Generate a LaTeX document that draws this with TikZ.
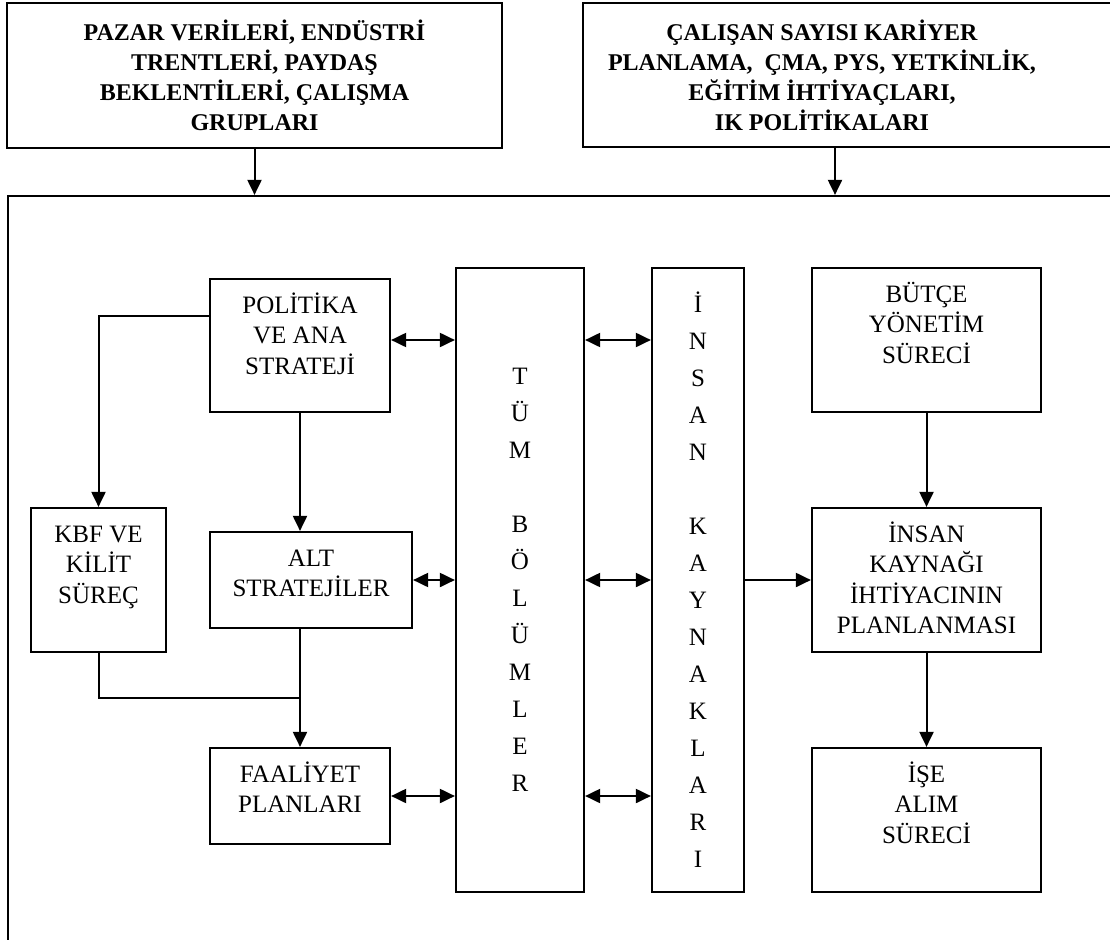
\documentclass[tikz,border=0pt]{standalone}
\usepackage{fontspec}
\setmainfont{Liberation Serif}
\usetikzlibrary{arrows.meta}
\newcommand\boxfont{\fontsize{25}{30.5}\selectfont}
\newcommand\colfont{\fontsize{25}{37}\selectfont}
\newcommand\topfont{\bfseries\fontsize{24}{30}\selectfont}
\newcommand\boxtop{\rule{0pt}{22pt}}
\tikzset{
  box/.style={draw, line width=2.2pt, inner sep=0pt},
  boxtxt/.style={anchor=north, inner sep=0pt, yshift=-13pt, align=center, font=\boxfont},
  toptxt/.style={inner sep=0pt, align=center, font=\topfont},
  topbox/.style={box, align=center, font=\topfont},
  col/.style={box, align=center, font=\colfont},
  conn/.style={line width=2pt},
  arr/.style={conn, -{Triangle[length=15pt,width=14pt]}},
  dbl/.style={conn, {Triangle[length=15pt,width=14pt]}-{Triangle[length=15pt,width=14pt]}}
}
\begin{document}
\begin{tikzpicture}[x=1pt, y=-1pt]
\useasboundingbox (0,0) rectangle (1110,939);
\clip (0,0) rectangle (1110,939);

% Input boxes
\node[topbox, minimum width=495, minimum height=145] (mkt) at (254.5,75.5) {PAZAR VERİLERİ, ENDÜSTRİ\\TRENTLERİ, PAYDAŞ\\BEKLENTİLERİ, ÇALIŞMA\\GRUPLARI};
\node[box, minimum width=537, minimum height=144, label={[toptxt, xshift=-29.5pt]center:ÇALIŞAN SAYISI KARİYER\\PLANLAMA, \ ÇMA, PYS, YETKİNLİK,\\EĞİTİM İHTİYAÇLARI,\\IK POLİTİKALARI}] (hr) at (851.5,75) {};

% Frame
\node[box, minimum width=1112, minimum height=754] (frame) at (564,573) {};
\coordinate (hrin) at ([xshift=-16.5pt]hr.south);
\draw[arr] (mkt.south) -- (mkt.south |- frame.north);
\draw[arr] (hrin) -- (hrin |- frame.north);

% Strategy side
\node[box, minimum width=180, minimum height=133, label={[boxtxt]north:\boxtop POLİTİKA\\VE ANA\\STRATEJİ}] (pol) at (300,345.5) {};
\node[box, minimum width=135, minimum height=144, label={[boxtxt]north:\boxtop KBF VE\\KİLİT\\SÜREÇ}] (kbf) at (98.5,580) {};
\node[box, minimum width=202, minimum height=96, label={[boxtxt]north:\boxtop ALT\\STRATEJİLER}] (alt) at (311,580) {};
\node[box, minimum width=180, minimum height=96, label={[boxtxt]north:\boxtop FAALİYET\\PLANLARI}] (fa) at (300,796) {};

% Columns
\node[col, minimum width=128, minimum height=624] (tum) at (520,580) {T\\Ü\\M\\[37pt]B\\Ö\\L\\Ü\\M\\L\\E\\R};
\node[col, minimum width=92, minimum height=624] (ins) at (698,580) {İ\\N\\S\\A\\N\\[37pt]K\\A\\Y\\N\\A\\K\\L\\A\\R\\I};

% HR side
\node[box, minimum width=229, minimum height=144, label={[boxtxt]north:\boxtop BÜTÇE\\YÖNETİM\\SÜRECİ}] (butce) at (926.5,340) {};
\node[box, minimum width=229, minimum height=144, label={[boxtxt]north:\boxtop İNSAN\\KAYNAĞI\\İHTİYACININ\\PLANLANMASI}] (ikp) at (926.5,580) {};
\node[box, minimum width=229, minimum height=144, label={[boxtxt]north:\boxtop İŞE\\ALIM\\SÜRECİ}] (ise) at (926.5,820) {};

% Connectors
\coordinate (join) at (300,698);
\coordinate (polr) at ([yshift=5.5pt]pol.east);
\draw[arr] ([yshift=29.5pt]pol.west) -| (kbf.north);
\draw[arr] (pol.south) -- (pol.south |- alt.north);
\draw[conn] (kbf.south) |- (join);
\draw[arr] (pol.south |- alt.south) -- (fa.north);
\foreach \p in {polr, alt.east, fa.east} {
  \draw[dbl] (\p) -- (\p -| tum.west);
  \draw[dbl] (tum.east |- \p) -- (ins.west |- \p);
}
\draw[arr] (ins.east |- ikp.west) -- (ikp.west);
\draw[arr] (butce.south) -- (ikp.north);
\draw[arr] (ikp.south) -- (ise.north);
\end{tikzpicture}
\end{document}
